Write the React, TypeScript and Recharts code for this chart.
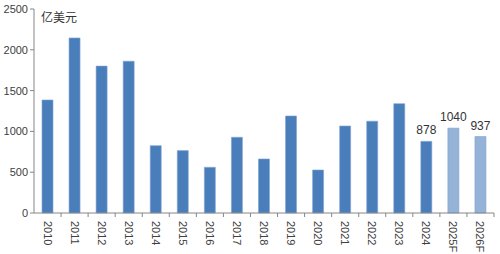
import { BarChart, Bar, XAxis, YAxis, Cell, LabelList } from "recharts";

const years = ["2010", "2011", "2012", "2013", "2014", "2015", "2016", "2017", "2018", "2019", "2020", "2021", "2022", "2023", "2024", "2025F", "2026F"];
const amounts = [1385, 2145, 1800, 1860, 825, 765, 560, 928, 662, 1189, 527, 1066, 1125, 1340, 878, 1040, 937];
const labelled = ["2024", "2025F", "2026F"];
const yTicks = [0, 500, 1000, 1500, 2000, 2500];

const data = years.map((year, i) => ({ year, amount: amounts[i] }));

const W = 500;
const H = 254;
const M = { top: 9, right: 6, left: 0, bottom: 0 };
const Y_W = 34;
const band = (W - M.left - M.right - Y_W) / years.length;
const FONT = "'Liberation Sans', Arial, sans-serif";

function YearTick(props: any) {
  const { x, y, payload } = props;
  return (
    <g>
      <line x1={x + band / 2} y1={y - 8} x2={x + band / 2} y2={y - 4} stroke="#868686" />
      <text
        x={x}
        y={y}
        transform={`rotate(90, ${x}, ${y})`}
        dy={4}
        textAnchor="start"
        fontSize={11}
        fill="#404040"
        fontFamily={FONT}
      >
        {payload.value}
      </text>
    </g>
  );
}

export default function App() {
  return (
    <div style={{ position: "absolute", left: 0, top: 0, width: W, height: H, background: "#fff" }}>
      <BarChart width={W} height={H} data={data} margin={M} barCategoryGap={0}>
        <XAxis
          dataKey="year"
          interval={0}
          tickLine={false}
          axisLine={{ stroke: "#868686" }}
          tick={<YearTick />}
          height={41}
        />
        <YAxis
          domain={[0, 2500]}
          ticks={yTicks}
          width={Y_W}
          tickLine={{ stroke: "#868686" }}
          tickSize={4}
          axisLine={{ stroke: "#868686" }}
          tick={{ fontSize: 11, fill: "#404040", fontFamily: FONT }}
          interval={0}
        />
        <Bar dataKey="amount" barSize={11} isAnimationActive={false} stroke="#7fa3d4" strokeWidth={0.6}>
          {data.map((d) => (
            <Cell key={d.year} fill={d.year.endsWith("F") ? "#95b3d7" : "#4a7ebb"} />
          ))}
          <LabelList
            dataKey="amount"
            position="top"
            offset={7}
            fontSize={12}
            fill="#333"
            fontFamily={FONT}
            formatter={(v: any) => v}
            content={(p: any) => {
              const d = data[p.index];
              if (!d || !labelled.includes(d.year)) return null;
              return (
                <text x={p.x + p.width / 2} y={p.y - 7} textAnchor="middle" fontSize={12} fill="#333" fontFamily={FONT}>
                  {p.value}
                </text>
              );
            }}
          />
        </Bar>
        <text x={41} y={22} fontSize={12} fill="#333" fontFamily="'Noto Sans CJK SC', sans-serif">
          亿美元
        </text>
      </BarChart>
    </div>
  );
}
